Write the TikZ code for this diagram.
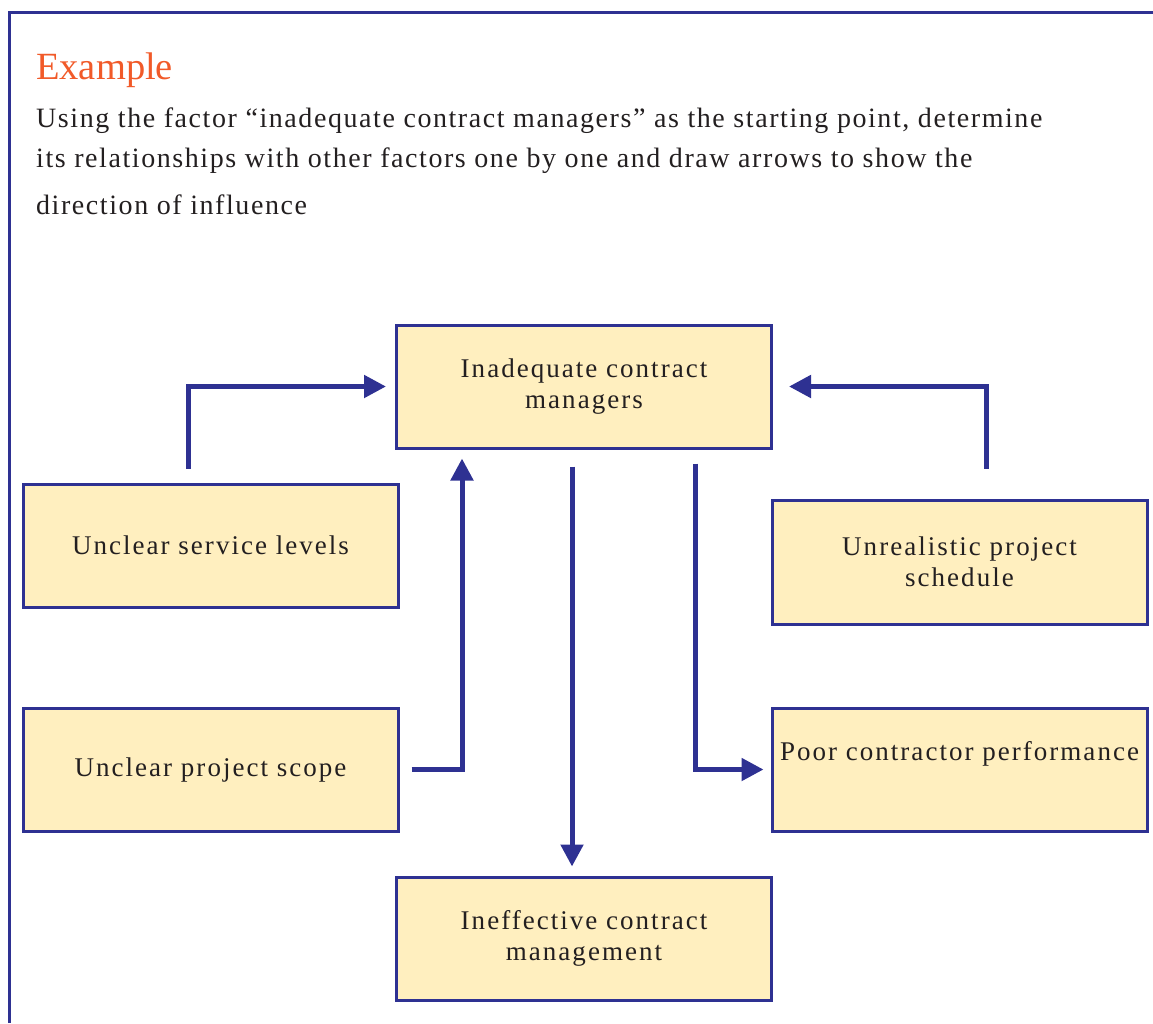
\documentclass[tikz,border=0pt]{standalone}
\usepackage{fontspec}
\setmainfont{Liberation Serif}
\newfontfamily\boxfont{Liberation Serif}[LetterSpace=7.5]
\newfontfamily\bodyfont{Liberation Serif}[LetterSpace=5.6]
\usetikzlibrary{arrows.meta}
\definecolor{frameblue}{RGB}{46,49,146}
\definecolor{boxfill}{RGB}{255,239,191}
\definecolor{inkgray}{RGB}{35,31,32}
\definecolor{titleorange}{RGB}{241,90,41}
\tikzset{
  factor/.style={draw=frameblue, line width=3pt, fill=boxfill,
    minimum width=375pt, minimum height=123pt, inner sep=0pt,
    align=center, text=inkgray,
    font=\boxfont\fontsize{27pt}{31pt}\selectfont},
  influence/.style={draw=frameblue, line width=5pt,
    -{Triangle[length=22pt,width=22pt]}},
  bodyline/.style={anchor=base west, inner sep=0pt, text=inkgray,
    font=\bodyfont\fontsize{28pt}{32pt}\selectfont}
}
\begin{document}
\begin{tikzpicture}[x=1pt, y=-1pt]
  \useasboundingbox (0,0) rectangle (1153,1023);
  % open frame: left and top edges
  \draw[frameblue, line width=3.5pt] (9.5,1023) -- (9.5,12.5) -- (1153,12.5);

  % heading and instructions
  \node[anchor=base west, inner sep=0pt, text=titleorange,
        font=\fontsize{38.5pt}{42pt}\selectfont] (title) at (36,79) {Example};
  \node[bodyline] (l1) at (36,127) {Using the factor “inadequate contract managers” as the starting point, determine};
  \node[bodyline] (l2) at (36,167) {its relationships with other factors one by one and draw arrows to show the};
  \node[bodyline] (l3) at (36,214) {direction of influence};

  % factors
  \node[factor] (inad) at (584,386.5) {Inadequate contract\\managers};
  \node[factor] (svc)  at (210.5,545.5) {Unclear service levels};
  \node[factor, minimum height=124pt] (sched) at (959.5,562) {Unrealistic project\\schedule};
  \node[factor] (scope) at (210.5,769.5) {Unclear project scope};
  \node[factor] (poor)  at (959.5,769.5) {Poor contractor performance\\[-4pt]\strut};
  \node[factor] (ineff) at (584,938.5) {Ineffective contract\\management};

  % influence arrows
  \draw[influence] ([shift={(-22.5,-14)}]svc.north) |- ([xshift=-9pt]inad.west);
  \draw[influence] ([shift={(26.5,-30)}]sched.north) |- ([xshift=16pt]inad.east);
  \draw[influence] ([xshift=12pt]scope.east) -| ([shift={(-122,9)}]inad.south);
  \draw[influence] ([shift={(-12,17)}]inad.south) -- ([shift={(-12,-9)}]ineff.north);
  \draw[influence] ([shift={(111,14)}]inad.south) |- ([xshift=-7pt]poor.west);
\end{tikzpicture}
\end{document}
